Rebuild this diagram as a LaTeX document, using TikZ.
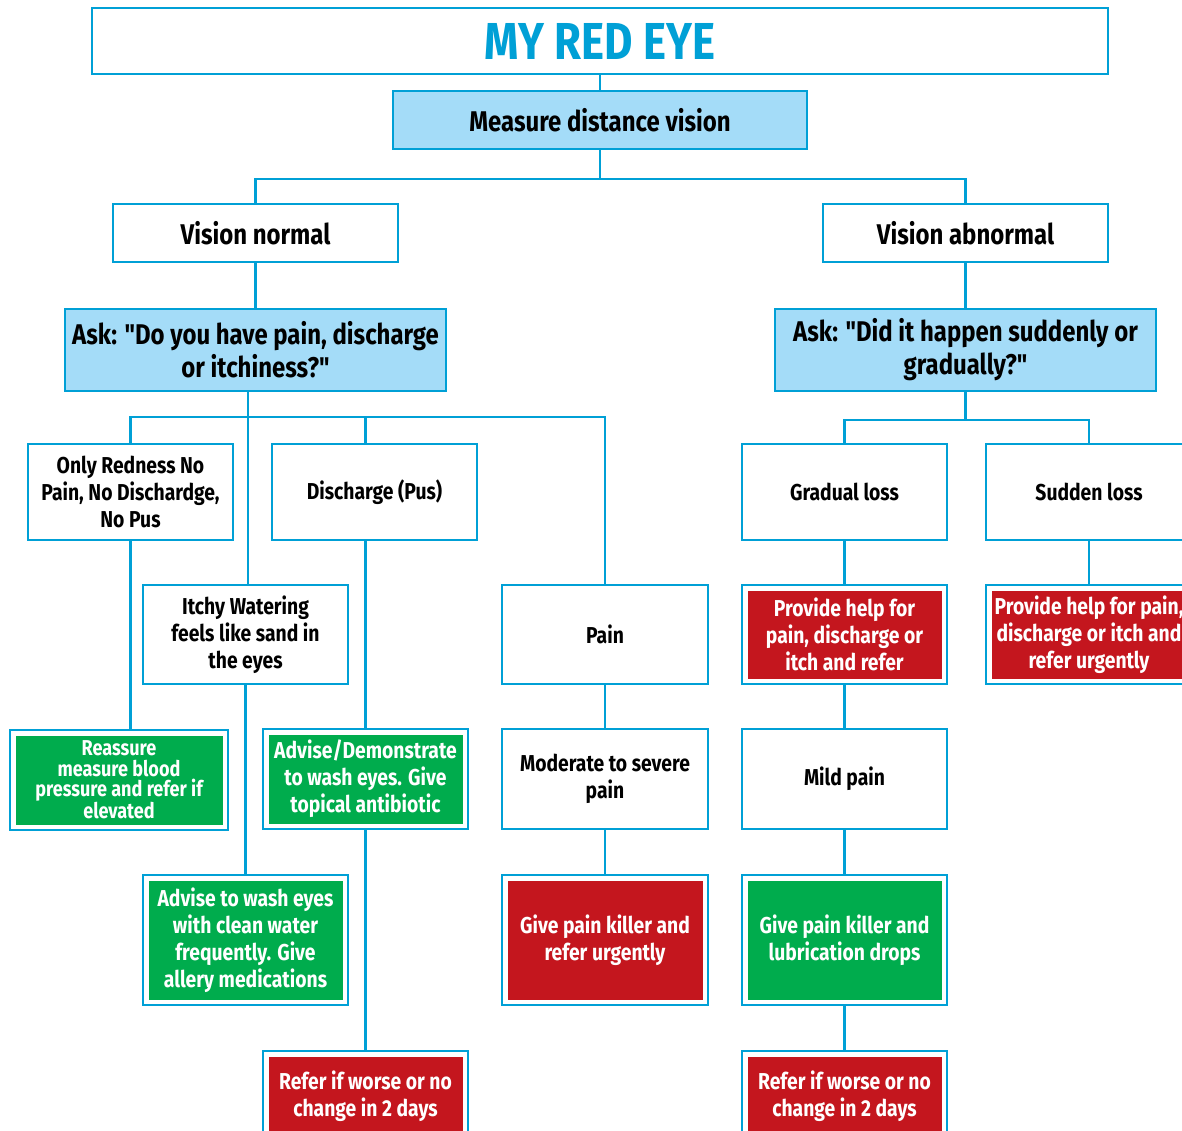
\documentclass[tikz,border=0pt]{standalone}
\usepackage{fontspec}
\setmainfont[FakeStretch=0.84, Ligatures=TeXOff]{Fira Sans}
\definecolor{eyeblue}{RGB}{0,160,214}
\definecolor{paleblue}{RGB}{164,220,248}
\definecolor{eyered}{RGB}{196,22,30}
\definecolor{eyegreen}{RGB}{0,172,77}
\tikzset{
        link/.style={draw=eyeblue, line width=2.4pt},
        plain/.style={draw=eyeblue, line width=2.4pt, fill=white, align=center, inner sep=0pt,
          font=\fontsize{23}{27}\selectfont\bfseries},
        big/.style={font=\fontsize{28.5}{33}\selectfont\bfseries},
        ask/.style={plain, big, fill=paleblue},
        inset/.style={plain, text=white, path picture={\fill[#1]
          ([shift={(5.5pt,-5.5pt)}]path picture bounding box.north west) rectangle
          ([shift={(-5.5pt,5.5pt)}]path picture bounding box.south east);}},
        redbox/.style={inset=eyered},
        greenbox/.style={inset=eyegreen}
          }

\begin{document}
\begin{tikzpicture}[x=1pt, y=-1pt]
      \clip (0,0) rectangle (1182,1130);
      \fill[white] (0,0) rectangle (1182,1130);
      % top of the chart
      \node[plain, minimum width=1016, minimum height=66, text=eyeblue,
        font=\fontsize{52}{52}\selectfont\bfseries] (title) at (600,41) {MY RED EYE};
      \node[ask, minimum width=414, minimum height=58] (measure) at (600,120) {Measure distance vision};
      \node[plain, big, minimum width=285, minimum height=58] (normal) at (255.5,233) {Vision normal};
      \node[plain, big, minimum width=285, minimum height=58] (abnormal) at (965.5,233) {Vision abnormal};
      \node[ask, minimum width=381, minimum height=82] (ask1) at (255.5,350) {Ask: "Do you have pain, discharge\\or itchiness?"};
      \node[ask, minimum width=381, minimum height=82] (ask2) at (965.5,350) {Ask: "Did it happen suddenly or\\gradually?"};
      % vision normal side
      \node[plain, minimum width=205, minimum height=96] (redness) at (130.5,492) {Only Redness No\\Pain, No Dischardge,\\No Pus};
      \node[plain, minimum width=205, minimum height=96] (discharge) at (374.5,492) {Discharge (Pus)};
      \node[plain, minimum width=205, minimum height=99] (itchy) at (245.5,634.5) {Itchy Watering\\feels like sand in\\the eyes};
      \node[plain, minimum width=206, minimum height=99] (pain) at (605,634.5) {Pain};
      \node[greenbox, minimum width=218, minimum height=100, font=\fontsize{21.5}{20.5}\selectfont\bfseries] (reassure) at (119,780) {Reassure\\measure blood\\pressure and refer if\\elevated};
      \node[greenbox, minimum width=205, minimum height=100] (demo) at (365.5,779) {Advise/Demonstrate\\to wash eyes. Give\\topical antibiotic};
      \node[plain, minimum width=206, minimum height=100] (moderate) at (605,779) {Moderate to severe\\pain};
      \node[greenbox, minimum width=205, minimum height=130] (wash) at (245.5,940) {Advise to wash eyes\\with clean water\\frequently. Give\\allery medications};
      \node[redbox, minimum width=206, minimum height=130] (killer) at (605,940) {Give pain killer and\\refer urgently};
      \node[redbox, minimum width=205, minimum height=90] (refer1) at (365.5,1096) {Refer if worse or no\\change in 2 days};
      % vision abnormal side
      \node[plain, minimum width=205, minimum height=96] (gradual) at (844.5,492) {Gradual loss};
      \node[plain, minimum width=206, minimum height=96] (sudden) at (1089,492) {Sudden loss};
      \node[redbox, minimum width=205, minimum height=99] (help1) at (844.5,634.5) {Provide help for\\pain, discharge or\\itch and refer};
      \node[redbox, minimum width=206, minimum height=99] (help2) at (1089,634.5) {Provide help for pain,\\discharge or itch and\\refer urgently};
      \node[plain, minimum width=205, minimum height=100] (mild) at (844.5,779) {Mild pain};
      \node[greenbox, minimum width=205, minimum height=130] (drops) at (844.5,940) {Give pain killer and\\lubrication drops};
      \node[redbox, minimum width=205, minimum height=90] (refer2) at (844.5,1096) {Refer if worse or no\\change in 2 days};
      % connectors
      \draw[link] (title) -- (measure);
      \draw[link] (measure.south) -- ++(0,29) -| (normal.north);
      \draw[link] (measure.south) -- ++(0,29) -| (abnormal.north);
      \draw[link] (normal) -- (ask1);
      \draw[link] (abnormal) -- (ask2);
      \coordinate (fork1) at (248,417);
      \draw[link] (fork1 |- ask1.south) -- (fork1 |- itchy.north);
      \draw[link] (redness.north) |- (fork1) -| (pain.north);
      \draw[link] (fork1) -| (demo.north |- discharge.north);
      \draw[link] (redness.south) -- (redness.south |- reassure.north);
      \draw[link] (demo.north |- discharge.south) -- (demo.north);
      \draw[link] (demo) -- (refer1);
      \draw[link] (itchy) -- (wash);
      \draw[link] (pain) -- (moderate);
      \draw[link] (moderate) -- (killer);
      \draw[link] (ask2.south) -- ++(0,28) -| (gradual.north);
      \draw[link] (ask2.south) -- ++(0,28) -| (sudden.north);
      \draw[link] (gradual) -- (help1);
      \draw[link] (sudden) -- (help2);
      \draw[link] (help1) -- (mild);
      \draw[link] (mild) -- (drops);
      \draw[link] (drops) -- (refer2);
\end{tikzpicture}
\end{document}
